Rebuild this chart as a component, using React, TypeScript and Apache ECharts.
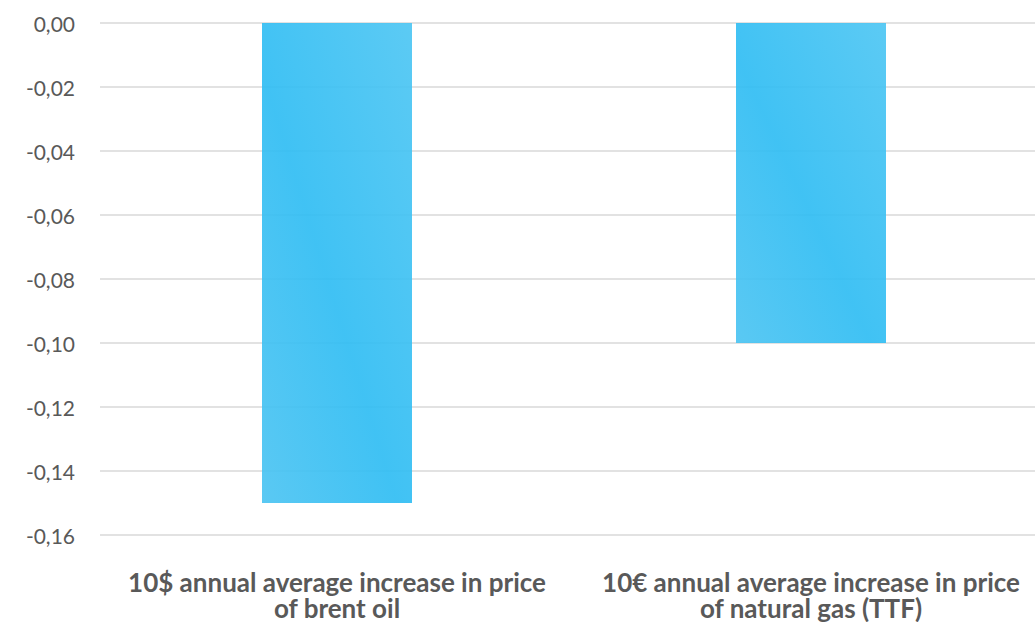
import React, { useEffect, useRef } from "react";
import * as echarts from "echarts";

const categories = [
  "10$ annual average increase in price\nof brent oil",
  "10€ annual average increase in price\nof natural gas (TTF)",
];
const values = [-0.15, -0.1];
const yMin = -0.16;
const yMax = 0;
const yStep = 0.02;

export default function App() {
  const ref = useRef<HTMLDivElement>(null);

  useEffect(() => {
    if (!ref.current) return;
    const chart = echarts.init(ref.current, undefined, { renderer: "svg" });
    const barFill = new echarts.graphic.LinearGradient(0, 1, 1, 0, [
      { offset: 0, color: "#4CC4F2" },
      { offset: 0.45, color: "#30BDF3" },
      { offset: 1, color: "#4EC6F3" },
    ]);
    chart.setOption({
      animation: false,
      grid: { left: 100, right: 0, top: 23, bottom: 87 },
      xAxis: {
        type: "category",
        data: categories,
        axisLine: { show: false },
        axisTick: { show: false },
        axisLabel: {
          margin: 34,
          fontFamily: "Lato",
          fontWeight: "bold",
          fontSize: 26,
          lineHeight: 26,
          color: "#595959",
          interval: 0,
        },
      },
      yAxis: {
        type: "value",
        min: yMin,
        max: yMax,
        interval: yStep,
        axisLine: { show: false },
        axisTick: { show: false },
        splitLine: { lineStyle: { color: "#D9D9D9", width: 1.5 } },
        axisLabel: {
          margin: 25,
          fontFamily: "Lato",
          fontSize: 21,
          color: "#595959",
          formatter: (v: number) => (Math.abs(v) < 1e-9 ? 0 : v).toFixed(2).replace(".", ","),
        },
      },
      series: [
        {
          type: "bar",
          data: values,
          barWidth: 150,
          itemStyle: { color: barFill, opacity: 0.92 },
        },
      ],
    });
    return () => chart.dispose();
  }, []);

  return (
    <div
      ref={ref}
      style={{ position: "fixed", left: 0, top: 0, width: 1048, height: 622, background: "#fff" }}
    />
  );
}
